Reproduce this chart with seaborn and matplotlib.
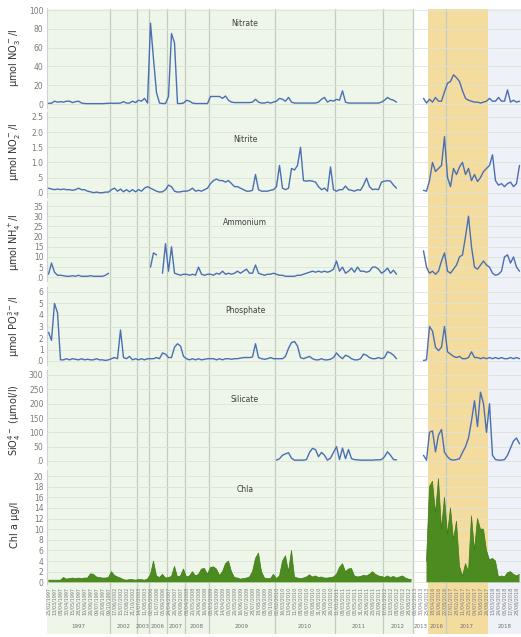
import numpy as np
import pandas as pd
import matplotlib
matplotlib.use("Agg")
import matplotlib.pyplot as plt
import matplotlib.transforms as mtrans
import seaborn as sns

nan = np.nan

# ---------------- data ----------------
years = ["1997", "2002", "2003", "2006", "2007", "2008", "2009", "2010",
         "2011", "2012", "2013", "2016", "2017", "2018"]
samples_per_year = [21, 9, 4, 6, 6, 8, 22, 20, 16, 10, 5, 6, 14, 11]

nitrate = [
    0.8, 0.8, 3.0, 2.0, 2.5, 2.0, 3.0, 3.0, 1.5, 2.5, 3.0, 1.0, 0.5, 0.4, 0.4, 0.4, 0.4, 0.4, 0.4, 0.6, 0.8,
    0.8, 0.8, 0.8, 1.0, 2.5, 1.0, 1.0, 3.0, 1.5,
    4.0, 3.0, 6.0, 1.0,
    86, 48, 12, 1.0, 0.5, 0.5,
    8, 75, 65, 0.5, 0.5, 1.0,
    4, 3, 1, 0.5, 0.5, 0.5, 0.5, 0.5,
    8, 8, 8, 8, 6, 8.5, 4, 2, 1.5, 1.5, 1.5, 1.5, 1.5, 1.5, 2, 5, 2, 1, 1, 2, 1, 2,
    3, 6, 5, 3, 7, 2, 1, 1, 1, 1, 1, 1, 1, 1, 2, 5, 7, 2, 4, 3,
    5, 4, 14, 2, 1, 1, 1, 1, 1, 1, 1, 1, 1, 1, 1, 2,
    4, 7, 5, 4, 2, nan, nan, nan, nan, nan,
    nan, nan, nan, 6, 1,
    5, 2, 7, 3, 3, 13,
    22, 24, 31, 28, 24, 14, 6, 4, 3, 2, 2, 1, 2, 3,
    6, 3, 3, 7, 3, 3, 15, 2, 4, 2, 3]

nitrite = [
    0.15, 0.12, 0.1, 0.12, 0.1, 0.12, 0.1, 0.1, 0.08, 0.1, 0.15, 0.1, 0.1, 0.05, 0.03, 0.0, 0.02, 0.0, 0.0, 0.02, 0.02,
    0.1, 0.15, 0.05, 0.12, 0.03, 0.1, 0.03, 0.1, 0.03,
    0.1, 0.05, 0.15, 0.2,
    0.15, 0.1, 0.05, 0.02, 0.03, 0.1,
    0.25, 0.2, 0.05, 0.02, 0.03, 0.05,
    0.05, 0.08, 0.15, 0.05, 0.08, 0.05, 0.1, 0.15,
    0.3, 0.4, 0.45, 0.4, 0.4, 0.35, 0.4, 0.3, 0.2, 0.2, 0.15, 0.1, 0.05, 0.05, 0.08, 0.6, 0.1, 0.05, 0.05, 0.05, 0.08, 0.1,
    0.2, 0.9, 0.15, 0.1, 0.15, 0.8, 0.75, 0.9, 1.5, 0.4, 0.38, 0.4, 0.38, 0.35, 0.2, 0.1, 0.15, 0.05, 0.85, 0.1,
    0.05, 0.1, 0.1, 0.22, 0.1, 0.08, 0.05, 0.1, 0.08, 0.25, 0.48, 0.2, 0.1, 0.12, 0.1, 0.35,
    0.38, 0.4, 0.38, 0.25, 0.15, nan, nan, nan, nan, nan,
    nan, nan, nan, 0.08, 0.05,
    0.4, 1.0, 0.7, 0.8, 0.9, 1.85,
    0.5, 0.2, 0.8, 0.6, 0.85, 1.0, 0.6, 0.8, 0.4, 0.6, 0.37, 0.5, 0.7, 0.8,
    0.9, 1.25, 0.4, 0.25, 0.3, 0.2, 0.3, 0.35, 0.2, 0.3, 0.9]

ammonium = [
    1.5, 7, 2.5, 1, 1, 0.8, 0.5, 0.5, 0.8, 0.5, 1, 0.5, 0.5, 0.5, 0.8, 0.5, 0.5, 0.5, 0.5, 1, 2,
    nan, nan, nan, nan, nan, nan, nan, nan, nan,
    nan, nan, nan, nan,
    5, 12, 11, nan, 2, 16.5,
    3, 15, 2, 1.5, 1, 1.5,
    1.5, 1, 1.5, 1, 5, 1.5, 1, 1.5,
    1.5, 1, 2, 1.5, 3, 1.5, 2, 1.5, 2, 3, 2, 3, 4, 2, 2, 6, 2, 1.5, 1, 1.5, 1.5, 2,
    1.5, 1, 1, 0.5, 0.5, 0.5, 0.5, 1, 1, 1.5, 2, 2.5, 3, 2.5, 3, 2.5, 3, 2.5, 3, 4,
    8, 3, 5, 2, 3, 4.5, 2.5, 5, 3, 3, 2.5, 3, 5, 5, 4, 2,
    3, 4.5, 2, 3.5, 1.5, nan, nan, nan, nan, nan,
    nan, nan, nan, 13, 5,
    2, 3, 1.5, 3, 8, 12,
    3, 2, 4, 6, 10, 11, 20, 30, 15, 5, 4, 6, 8, 6,
    5, 2, 1, 1.5, 3, 10, 11, 7, 10, 5, 3]

phosphate = [
    2.5, 1.8, 5.0, 4.2, 0.1, 0.1, 0.2, 0.1, 0.2, 0.15, 0.1, 0.2, 0.1, 0.15, 0.1, 0.1, 0.2, 0.1, 0.1, 0.05, 0.1,
    0.2, 0.3, 0.2, 2.7, 0.3, 0.2, 0.4, 0.1, 0.2,
    0.1, 0.2, 0.1, 0.2,
    0.2, 0.2, 0.3, 0.2, 0.7, 0.6,
    0.3, 0.3, 1.2, 1.5, 1.3, 0.4,
    0.2, 0.1, 0.2, 0.1, 0.2, 0.1, 0.15, 0.2,
    0.2, 0.2, 0.1, 0.2, 0.1, 0.2, 0.2, 0.15, 0.2, 0.2, 0.25, 0.3, 0.3, 0.3, 0.35, 1.5, 0.3, 0.2, 0.15, 0.2, 0.3, 0.2,
    0.2, 0.2, 0.2, 0.4, 1.1, 1.6, 1.7, 1.3, 0.3, 0.2, 0.3, 0.4, 0.2, 0.1, 0.1, 0.2, 0.1, 0.1, 0.15, 0.3,
    0.7, 0.4, 0.2, 0.5, 0.4, 0.2, 0.1, 0.1, 0.2, 0.6, 0.5, 0.3, 0.2, 0.2, 0.3, 0.2,
    0.3, 0.8, 0.7, 0.5, 0.2, nan, nan, nan, nan, nan,
    nan, nan, nan, 0.05, 0.1,
    3.0, 2.6, 1.2, 0.9, 1.2, 3.0,
    0.8, 0.6, 0.4, 0.3, 0.4, 0.2, 0.2, 0.3, 0.8, 0.3, 0.3, 0.2, 0.3, 0.2,
    0.3, 0.2, 0.3, 0.2, 0.3, 0.2, 0.2, 0.3, 0.2, 0.3, 0.2]

silicate = (
    [nan] * 21 + [nan] * 9 + [nan] * 4 + [nan] * 6 + [nan] * 6 + [nan] * 8 + [nan] * 22 + [
    3, 8, 20, 25, 29, 10, 3, 3, 3, 3, 5, 30, 44, 40, 15, 30, 20, 3, 10, 30,
    50, 5, 45, 8, 40, 8, 5, 4, 3, 3, 3, 3, 3, 4, 4, 5,
    15, 32, 20, 5, 4, nan, nan, nan, nan, nan,
    nan, nan, nan, 20, 3,
    100, 105, 32, 90, 110, 30,
    15, 5, 3, 5, 8, 30, 50, 80, 140, 210, 120, 240, 200, 100,
    200, 20, 5, 3, 3, 5, 20, 45, 70, 80, 60])

chla = [
    0.4, 0.4, 0.4, 0.4, 0.4, 0.9, 0.6, 0.7, 0.8, 0.7, 0.8, 0.7, 0.8, 0.8, 1.6, 1.5, 1.0, 0.9, 0.8, 0.8, 0.9,
    2.0, 1.3, 1.0, 0.8, 0.5, 0.4, 0.5, 0.5, 0.4,
    0.5, 0.5, 0.4, 0.6,
    1.5, 4.0, 1.2, 0.9, 1.5, 0.8,
    0.9, 1.1, 3.0, 1.0, 1.2, 2.5,
    1.0, 1.2, 2.0, 1.2, 1.5, 2.5, 2.6, 1.5,
    2.8, 2.9, 2.5, 1.3, 2.0, 3.5, 4.0, 2.0, 0.9, 0.8, 0.6, 0.7, 0.8, 1.0, 2.0, 4.5, 5.5, 2.0, 0.8, 0.7, 0.7, 1.5,
    0.7, 1.2, 4.0, 5.0, 2.0, 6.0, 1.0, 0.8, 0.7, 0.8, 1.0, 1.4, 1.0, 1.2, 0.9, 1.0, 0.8, 0.8, 0.9, 1.0,
    1.5, 2.8, 3.5, 2.0, 2.5, 2.6, 1.2, 1.0, 1.1, 1.3, 1.2, 1.5, 2.0, 1.5, 1.2, 1.1,
    0.9, 1.2, 0.9, 1.1, 0.8, 1.0, 1.2, 0.8, 0.6, 0.5,
    nan, nan, nan, nan, 4.0,
    18, 19, 13, 19.5, 10, 16,
    9, 14, 8, 11.5, 3, 1.2, 3.5, 2, 12.5, 6, 12, 10, 10, 6,
    4.2, 4.5, 4.0, 1.0, 1.2, 1.0, 1.8, 2.0, 1.5, 1.2, 1.5]

date_labels = [
    "25/02/1997", "13/03/1997", "08/04/1997", "30/04/1997", "15/05/1997", "28/05/1997",
    "10/06/1997", "26/06/1997", "09/07/1997", "20/08/1997", "09/10/1997",
    "17/06/2002", "15/07/2002", "12/08/2002", "21/10/2002",
    "14/07/2003", "11/08/2003",
    "02/05/2006", "11/07/2006", "05/09/2006",
    "24/04/2007", "26/06/2007", "04/09/2007",
    "08/04/2008", "20/05/2008", "24/06/2008", "16/09/2008",
    "03/03/2009", "24/03/2009", "14/04/2009", "05/05/2009", "26/05/2009", "16/06/2009",
    "07/07/2009", "28/07/2009", "18/08/2009", "08/09/2009", "06/10/2009",
    "02/02/2010", "16/03/2010", "13/04/2010", "11/05/2010", "08/06/2010", "06/07/2010",
    "03/08/2010", "31/08/2010", "28/09/2010", "26/10/2010",
    "11/01/2011", "08/03/2011", "05/04/2011", "03/05/2011", "31/05/2011", "28/06/2011",
    "23/08/2011", "20/09/2011",
    "17/01/2012", "13/03/2012", "08/05/2012", "03/07/2012", "28/08/2012",
    "05/02/2013", "30/04/2013", "25/06/2013",
    "18/04/2016", "16/06/2016", "22/08/2016",
    "17/01/2017", "28/02/2017", "11/04/2017", "23/05/2017", "04/07/2017", "15/08/2017", "26/09/2017",
    "13/03/2018", "24/04/2018", "05/06/2018", "17/07/2018", "28/08/2018"]

N = sum(samples_per_year)
for s in (nitrate, nitrite, ammonium, phosphate, silicate, chla):
    assert len(s) == N, len(s)

idx = np.arange(N)
bounds = np.cumsum([0] + samples_per_year)  # segment boundaries in sample index

# ---------------- figure ----------------
sns.set_theme(style="white")
plt.rcParams['font.family'] = ['DejaVu Sans']
W, H = 521, 637
fig = plt.figure(figsize=(W / 100, H / 100), dpi=100)


def fy(px):
    return 1 - px / H


left = 47 / W
width = 1 - left
xlim = (-0.5, N - 0.5)

GREEN_BG = "#eef6e9"
ORANGE_BG = "#f4dc9f"
BLUE_BG = "#eef1f7"
SEP = "#c3ccbf"

bg = fig.add_axes([left, fy(634), width, (634 - 9) / H], zorder=0)
bg.set_xlim(*xlim)
bg.set_ylim(0, 1)
bg.axis("off")
i2013 = years.index("2013")
i2016 = years.index("2016")
i2018 = years.index("2018")
bg.axvspan(-0.5, bounds[i2013] - 0.5, color=GREEN_BG, lw=0)
bg.axvspan(bounds[i2016] - 0.5, bounds[i2018] - 0.5, color=ORANGE_BG, lw=0)
bg.axvspan(bounds[i2018] - 0.5, N - 0.5, color=BLUE_BG, lw=0)
for k in range(1, len(years)):
    if k in (i2016, i2018):
        continue
    bg.axvline(bounds[k] - 0.5, color=SEP, lw=0.9)

# year labels
tr = mtrans.blended_transform_factory(bg.transData, fig.transFigure)
for k, yr in enumerate(years):
    cx = (bounds[k] + bounds[k + 1]) / 2 - 0.5
    fig.text(cx, fy(627), yr, transform=tr, ha="center", va="center",
             fontsize=4.0, color="#707070")

LINE = "#4a6fb3"
CHLA = "#4b8b1f"

panels = [
    dict(data=nitrate, title="Nitrate", ylabel="µmol NO$_3^-$/l",
         ticks=[0, 20, 40, 60, 80, 100], labels=["0", "20", "40", "60", "80", "100"],
         vtop=100, ptop=10, pzero=104, atop=8, abot=108, title_y=23, label_y=58),
    dict(data=nitrite, title="Nitrite", ylabel="µmol NO$_2^-$/l",
         ticks=[0, 0.5, 1, 1.5, 2, 2.5], labels=[".0", ".5", "1.0", "1.5", "2.0", "2.5"],
         vtop=2.5, ptop=117, pzero=192.7, atop=112, abot=197, title_y=139, label_y=152),
    dict(data=ammonium, title="Ammonium", ylabel="µmol NH$_4^+$/l",
         ticks=[0, 5, 10, 15, 20, 25, 30, 35],
         labels=[".0", "5", "10", "15", "20", "25", "30", "35"],
         vtop=35, ptop=206, pzero=277.3, atop=201, abot=281, title_y=222, label_y=242),
    dict(data=phosphate, title="Phosphate", ylabel="µmol PO$_4^{3-}$/l",
         ticks=[0, 1, 2, 3, 4, 5, 6], labels=[".0", "1", "2", "3", "4", "5", "6"],
         vtop=6, ptop=292, pzero=361, atop=287, abot=365, title_y=310, label_y=326),
    dict(data=silicate, title="Silicate", ylabel="SiO$_4^{4-}$ (µmol/l)",
         ticks=[0, 50, 100, 150, 200, 250, 300],
         labels=[".0", "50", "100", "150", "200", "250", "300"],
         vtop=300, ptop=375, pzero=461, atop=370, abot=465, title_y=399, label_y=420),
    dict(data=chla, title="Chla", ylabel="Chl a µg/l",
         ticks=[0, 2, 4, 6, 8, 10, 12, 14, 16, 18, 20],
         labels=["0", "2", "4", "6", "8", "10", "12", "14", "16", "18", "20"],
         vtop=20, ptop=476, pzero=582.3, atop=470, abot=584, title_y=489, label_y=525),
]

for p in panels:
    ax = fig.add_axes([left, fy(p["abot"]), width, (p["abot"] - p["atop"]) / H], zorder=2)
    ax.set_facecolor("none")
    scale = (p["pzero"] - p["ptop"]) / p["vtop"]
    ax.set_ylim(-(p["abot"] - p["pzero"]) / scale, (p["pzero"] - p["atop"]) / scale)
    ax.set_xlim(*xlim)
    vals = np.array(p["data"], dtype=float)
    df = pd.DataFrame({"idx": idx, "val": vals,
                       "seg": np.cumsum(np.isnan(vals))})
    if p["title"] == "Chla":
        ax.fill_between(idx, 0, vals, color=CHLA, lw=0, zorder=3)
        sns.lineplot(data=df, x="idx", y="val", units="seg", estimator=None,
                     color="#3f7a17", lw=0.5, ax=ax, legend=False, zorder=4)
    else:
        sns.lineplot(data=df, x="idx", y="val", units="seg", estimator=None,
                     color=LINE, lw=1.0, ax=ax, legend=False, zorder=4)
    ax.set_xlabel("")
    ax.set_ylabel("")
    ax.set_yticks(p["ticks"])
    ax.set_yticklabels(p["labels"])
    ax.yaxis.grid(True, color="#dce4d7", lw=0.6)
    ax.xaxis.grid(False)
    ax.set_axisbelow(True)
    for s in ("top", "right", "bottom"):
        ax.spines[s].set_visible(False)
    ax.spines["left"].set_color("#c9d3df")
    ax.spines["left"].set_linewidth(0.8)
    ax.tick_params(axis="y", length=0, labelsize=5.5, labelcolor="#7a7a7a", pad=2.5)
    if p["title"] == "Chla":
        ax.set_xticks(idx[::2])
        ax.set_xticklabels(date_labels, rotation=90, fontsize=3.5, color="#7a7a7a")
        ax.tick_params(axis="x", length=0, pad=2)
    else:
        ax.set_xticks([])
    fig.text(245 / W, fy(p["title_y"]), p["title"], ha="center", va="center",
             fontsize=5.5, color="#404040")
    fig.text(15 / W, fy(p["label_y"]), p["ylabel"], rotation=90, ha="center",
             va="center", fontsize=7, color="#333333")

fig.savefig("out.png", dpi=100)
